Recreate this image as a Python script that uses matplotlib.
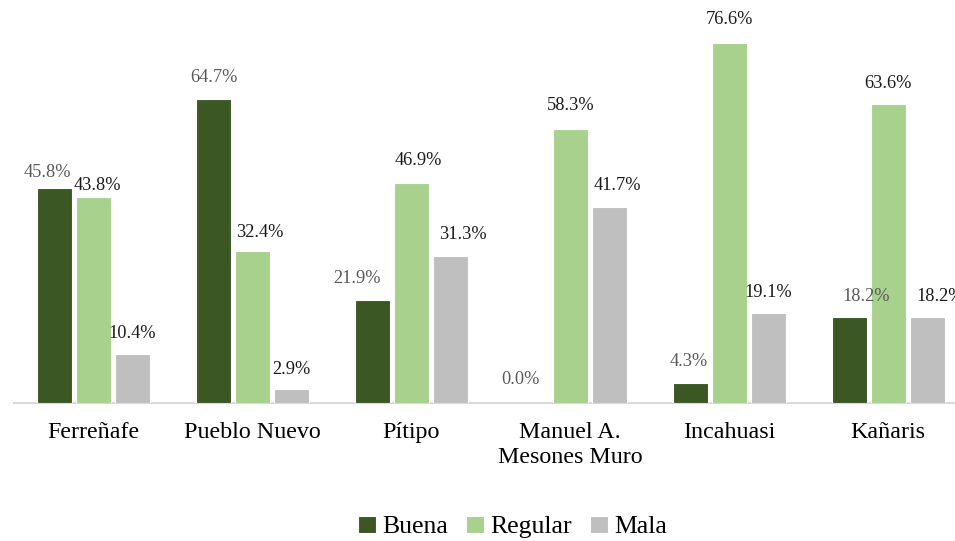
import matplotlib.pyplot as plt
import numpy as np

plt.rcParams['font.family'] = ['Liberation Serif', 'DejaVu Serif']

# datos
categorias = ['Ferreñafe', 'Pueblo Nuevo', 'Pítipo', 'Manuel A.\nMesones Muro', 'Incahuasi', 'Kañaris']
buena = [45.8, 64.7, 21.9, 0.0, 4.3, 18.2]
regular = [43.8, 32.4, 46.9, 58.3, 76.6, 63.6]
mala = [10.4, 2.9, 31.3, 41.7, 19.1, 18.2]

# desplazamiento de etiquetas (px) para imitar el original
dx_buena = [-7, 0, -15, -11, -2, 17]
dy_buena = [15, 21, 22, 23, 21, 21]
dx_regular = [4, 7, 7, 0, 0, 0]
dy_regular = [12, 18, 22, 23, 23, 21]
dx_mala = [0, 0, 13, 8, 0, 13]
dy_mala = [21, 20, 21, 22, 21, 21]

colores = ['#3A5724', '#A9D18E', '#BFBFBF']
color_etq = ['#595959', '#1a1a1a', '#1a1a1a']

fig = plt.figure(figsize=(9.55, 5.41), dpi=100)
ax = fig.add_axes([14 / 955, 138 / 541, 941 / 955, 376 / 541])

x = np.arange(len(categorias))
paso = 0.245
ancho = 0.22
series = [('Buena', buena, dx_buena, dy_buena),
          ('Regular', regular, dx_regular, dy_regular),
          ('Mala', mala, dx_mala, dy_mala)]

for i, (nombre, vals, dxs, dys) in enumerate(series):
    pos = x + (i - 1) * paso
    ax.bar(pos, vals, ancho, color=colores[i], edgecolor='white',
           linewidth=0.8, label=nombre, zorder=3)
    for p, v, ddx, ddy in zip(pos, vals, dxs, dys):
        ax.annotate(f'{v:.1f}%', (p, v), xytext=(ddx * 0.72, ddy * 0.72),
                    textcoords='offset points', ha='center', va='center',
                    fontsize=13.2, color=color_etq[i], annotation_clip=False,
                    zorder=6)

ax.set_xlim(-0.5, 5.42)
ax.set_ylim(0, 80)
ax.set_xticks(x)
ax.set_xticklabels(categorias, fontsize=17.3, linespacing=1.2)
ax.tick_params(axis='x', length=0, pad=14)
ax.set_yticks([])
for lado in ['top', 'right', 'left']:
    ax.spines[lado].set_visible(False)
ax.spines['bottom'].set_color('#D9D9D9')
ax.spines['bottom'].set_linewidth(1.5)

fig.legend(loc='center', bbox_to_anchor=(0.537, 1 - 527 / 541), ncol=3,
           frameon=False, fontsize=18.5, handlelength=0.7, handleheight=0.7,
           handletextpad=0.25, columnspacing=0.7)

fig.savefig('out.png', dpi=100)
